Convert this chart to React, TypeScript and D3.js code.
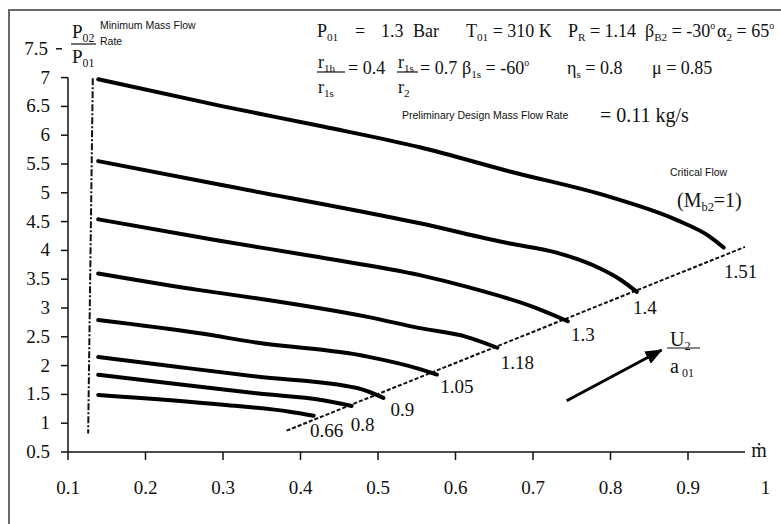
import React from "react";
import { scaleLinear, line, curveMonotoneX } from "d3";

const svgWidth = 781;
const svgHeight = 524;

// speed ratio U2/a01 for each characteristic
const speedLabels = ["0.66", "0.8", "0.9", "1.05", "1.18", "1.3", "1.4", "1.51"];

// [mass flow, P02/P01]
const curve066 = [[0.139, 1.49], [0.3, 1.32], [0.386, 1.2], [0.417, 1.13]];
const curve08 = [[0.139, 1.84], [0.24, 1.68], [0.343, 1.52], [0.429, 1.4], [0.466, 1.3]];
const curve09 = [[0.139, 2.15], [0.24, 1.98], [0.343, 1.81], [0.473, 1.61], [0.507, 1.44]];
const curve105 = [[0.139, 2.79], [0.27, 2.56], [0.343, 2.4], [0.485, 2.16], [0.554, 1.94], [0.576, 1.845]];
const curve118 = [[0.139, 3.6], [0.27, 3.31], [0.343, 3.17], [0.485, 2.85], [0.554, 2.65], [0.614, 2.5], [0.654, 2.31]];
const curve13 = [[0.139, 4.54], [0.29, 4.18], [0.425, 3.88], [0.554, 3.57], [0.614, 3.37], [0.7, 3.02], [0.745, 2.77]];
const curve14 = [[0.139, 5.55], [0.3, 5.13], [0.554, 4.47], [0.67, 4.12], [0.728, 3.97], [0.786, 3.69], [0.812, 3.5], [0.834, 3.28]];
const curve151 = [[0.139, 6.97], [0.3, 6.5], [0.429, 6.15], [0.554, 5.79], [0.67, 5.37], [0.799, 4.93], [0.885, 4.53], [0.928, 4.24], [0.946, 4.05]];

const curves = [curve066, curve08, curve09, curve105, curve118, curve13, curve14, curve151];

const criticalLine = [[0.382, 0.87], [0.9735, 4.06]];
const minFlowLine = [[0.132, 6.99], [0.126, 0.82]];
const speedArrow = [[0.7435, 1.39], [0.866, 2.27]];

const yTicks = [0.5, 1, 1.5, 2, 2.5, 3, 3.5, 4, 4.5, 5, 5.5, 6, 6.5, 7];
const xTicks = [0.1, 0.2, 0.3, 0.4, 0.5, 0.6, 0.7, 0.8, 0.9];
const xTickLabels = ["0.1", "0.2", "0.3", "0.4", "0.5", "0.6", "0.7", "0.8", "0.9", "1"];

// label offsets from the end of each curve
const labelOffsets = [[13, 21], [11, 25], [19, 18], [20, 18], [20, 21], [15, 20], [8, 22], [17, 30]];

const serif = "'Liberation Serif', 'Times New Roman', serif";
const sans = "'Liberation Sans', Arial, sans-serif";

const x = scaleLinear().domain([0.1, 1]).range([68, 765.5]);
const y = scaleLinear().domain([0.5, 7.5]).range([452, 48.8]);

const curvePath = line()
  .x((d) => x(d[0]))
  .y((d) => y(d[1]))
  .curve(curveMonotoneX);
const straight = line()
  .x((d) => x(d[0]))
  .y((d) => y(d[1]));

// symbol with a subscript, then the rest of the text
function Sym({ x, y, a, s, b = "", deg = false, size = 18 }) {
  return (
    <text x={x} y={y} fontSize={size}>
      {a}
      <tspan fontSize={size * 0.62} dy={4}>{s}</tspan>
      {b && <tspan dy={-4}>{b}</tspan>}
      {deg && <tspan fontSize={size * 0.55} dy={-8}>o</tspan>}
    </text>
  );
}

function App() {
  return (
    <svg
      width={svgWidth}
      height={svgHeight}
      style={{ position: "absolute", left: 0, top: 0, background: "#fff" }}
      fontFamily={serif}
      fill="#111"
    >
      <rect x={9} y={10} width={800} height={540} fill="none" stroke="#6a6a6a" strokeWidth={2} />

      {/* y axis */}
      <line x1={68} x2={68} y1={y(7)} y2={y(0.5)} stroke="#111" strokeWidth={1.5} />
      {yTicks.map((t) => (
        <g key={`yt${t}`}>
          <line x1={61} x2={68} y1={y(t)} y2={y(t)} stroke="#111" strokeWidth={1.5} />
          <text x={50} y={y(t) + 6} textAnchor="end" fontSize={19}>{t}</text>
        </g>
      ))}
      <line x1={56} x2={62} y1={y(7.5)} y2={y(7.5)} stroke="#111" strokeWidth={1.5} />
      <text x={48} y={y(7.5) + 6} textAnchor="end" fontSize={19}>7.5</text>

      {/* x axis */}
      <line x1={x(0.1)} x2={745} y1={y(0.5)} y2={y(0.5)} stroke="#111" strokeWidth={1.5} />
      {xTicks.map((t) => (
        <line key={`xt${t}`} x1={x(t)} x2={x(t)} y1={y(0.5)} y2={y(0.5) + 8} stroke="#111" strokeWidth={1.5} />
      ))}
      {xTickLabels.map((t) => (
        <text key={`xl${t}`} x={x(+t)} y={494} textAnchor="middle" fontSize={19}>{t}</text>
      ))}
      <text x={759} y={457} textAnchor="middle" fontSize={20}>ṁ</text>

      {/* axis title */}
      <Sym x={72} y={38} a="P" s="02" size={19} />
      <line x1={71} x2={96} y1={44} y2={44} stroke="#111" strokeWidth={1.2} />
      <Sym x={72} y={63} a="P" s="01" size={19} />
      <text x={100} y={29} fontFamily={sans} fontSize={10.5}>Minimum Mass Flow</text>
      <text x={100} y={45} fontFamily={sans} fontSize={10.5}>Rate</text>

      {/* min flow & critical lines */}
      <path d={straight(minFlowLine)} fill="none" stroke="#111" strokeWidth={2} strokeDasharray="7 2 2 2" />
      <path d={straight(criticalLine)} fill="none" stroke="#111" strokeWidth={2} strokeDasharray="4 2" />

      {curves.map((c, i) => (
        <path key={`c${i}`} d={curvePath(c)} fill="none" stroke="#000" strokeWidth={4} strokeLinejoin="round" strokeLinecap="round" />
      ))}
      {curves.map((c, i) => {
        const end = c[c.length - 1];
        return (
          <text key={`cl${i}`} x={x(end[0]) + labelOffsets[i][0]} y={y(end[1]) + labelOffsets[i][1]} textAnchor="middle" fontSize={19}>
            {speedLabels[i]}
          </text>
        );
      })}

      {/* speed arrow */}
      <defs>
        <marker id="head" markerUnits="userSpaceOnUse" markerWidth={17} markerHeight={14} refX={16} refY={7} orient="auto">
          <path d="M0,0 L17,7 L0,14 z" fill="#000" />
        </marker>
      </defs>
      <path d={straight(speedArrow)} stroke="#000" strokeWidth={3} markerEnd="url(#head)" />
      <Sym x={670} y={346} a="U" s="2" size={20} />
      <line x1={667} x2={700} y1={348} y2={348} stroke="#111" strokeWidth={1.2} />
      <text x={670} y={373} fontSize={20}>a<tspan fontSize={12} dx={3} dy={4}>01</tspan></text>

      {/* parameters */}
      <Sym x={317} y={37} a="P" s="01" />
      <text x={355} y={37} fontSize={18}>=</text>
      <text x={381} y={37} fontSize={18}>1.3</text>
      <text x={413} y={37} fontSize={18}>Bar</text>
      <Sym x={466} y={37} a="T" s="01" b=" = 310 K" />
      <Sym x={568} y={37} a="P" s="R" b=" = 1.14" />
      <Sym x={645} y={37} a="β" s="B2" b=" = -30" deg />
      <Sym x={717} y={37} a="α" s="2" b=" = 65" deg />

      <Sym x={318} y={68} a="r" s="1h" />
      <line x1={317} x2={345} y1={72} y2={72} stroke="#111" strokeWidth={1.2} />
      <Sym x={318} y={93} a="r" s="1s" />
      <text x={348} y={74} fontSize={18}>= 0.4</text>
      <Sym x={398} y={68} a="r" s="1s" />
      <line x1={397} x2={418} y1={72} y2={72} stroke="#111" strokeWidth={1.2} />
      <Sym x={398} y={93} a="r" s="2" />
      <text x={420} y={74} fontSize={18}>= 0.7</text>
      <Sym x={462} y={74} a="β" s="1s" b=" = -60" deg />
      <Sym x={567} y={74} a="η" s="s" b=" = 0.8" />
      <text x={652} y={74} fontSize={18}>μ = 0.85</text>

      <text x={600} y={122} fontSize={20}>= 0.11 kg/s</text>
      <Sym x={677} y={207} a="(M" s="b2" b="=1)" size={20} />
      <text x={402} y={119} fontFamily={sans} fontSize={10.5}>Preliminary Design Mass Flow Rate</text>
      <text x={670} y={176} fontFamily={sans} fontSize={10.5}>Critical Flow</text>
    </svg>
  );
}

export default App;
